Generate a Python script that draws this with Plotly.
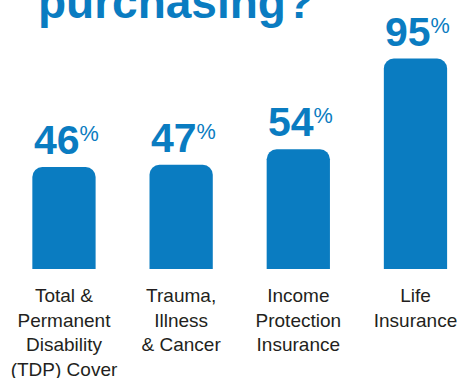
import plotly.graph_objects as go

categories = ["Total &<br>Permanent<br>Disability<br>(TDP) Cover",
              "Trauma,<br>Illness<br>& Cancer",
              "Income<br>Protection<br>Insurance",
              "Life<br>Insurance"]
values = [46, 47, 54, 95]
title_text = "purchasing?"

BLUE = "#0A7CC1"
FONT = "Liberation Sans, Arial, sans-serif"
x = list(range(len(values)))

fig = go.Figure()
fig.add_trace(go.Bar(
    x=x, y=values, width=0.54,
    marker=dict(color=BLUE, cornerradius=10, line=dict(width=0)),
    hoverinfo="skip",
))

for xi, v in zip(x, values):
    fig.add_annotation(
        x=xi, y=v, xref="x", yref="y",
        text=f"<b>{v}</b><span style='font-size:31px'><sup>%</sup></span>",
        showarrow=False, xanchor="left", yanchor="bottom",
        xshift=-32, yshift=2,
        font=dict(family=FONT, size=41, color=BLUE),
    )

# Title (cropped at top like the reference)
fig.add_annotation(
    x=36 / 460, y=1.0, xref="paper", yref="paper",
    text=f"<b>{title_text}</b>", showarrow=False,
    xanchor="left", yanchor="bottom", yshift=-30,
    font=dict(family=FONT, size=46, color=BLUE),
)

fig.update_layout(
    width=460, height=378,
    margin=dict(l=0, r=0, t=0, b=109, pad=0),
    paper_bgcolor="white", plot_bgcolor="white",
    showlegend=False,
    xaxis=dict(
        range=[-0.546, 3.38], tickmode="array", tickvals=x, ticktext=categories,
        showgrid=False, zeroline=False, showline=False, ticks="",
        ticklabelstandoff=13, automargin=False,
        tickfont=dict(family=FONT, size=19, color="#231F20"),
        fixedrange=True,
    ),
    yaxis=dict(range=[0, 121.4], visible=False, fixedrange=True),
)

fig.write_html("out.html")
